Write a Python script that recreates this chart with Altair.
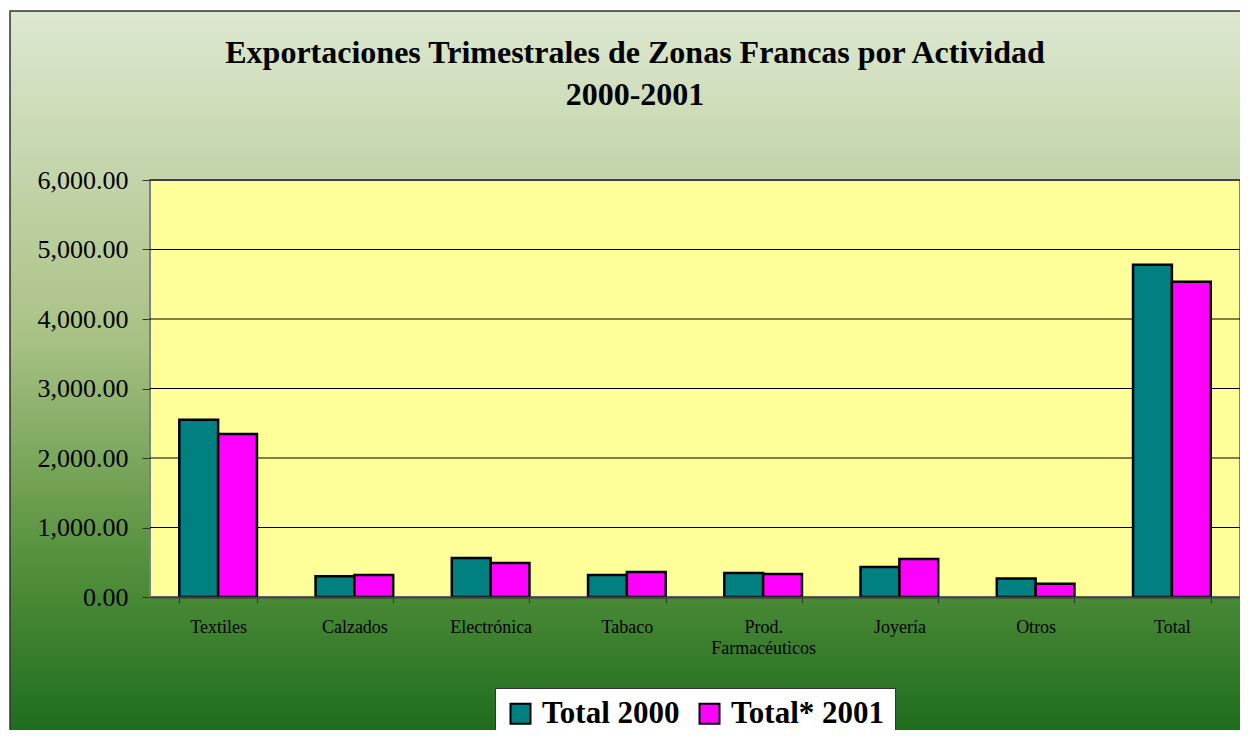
import altair as alt
import pandas as pd

categories = ["Textiles", "Calzados", "Electrónica", "Tabaco", "Prod. Farmacéuticos",
              "Joyería", "Otros", "Total"]
series = ["Total 2000", "Total* 2001"]
values_2000 = [2550, 300, 560, 315, 345, 430, 265, 4780]
values_2001 = [2345, 315, 490, 360, 330, 545, 190, 4535]
y_ticks = [0, 1000, 2000, 3000, 4000, 5000, 6000]
colors = ["#008080", "#FF00FF"]
title_lines = ["Exportaciones Trimestrales de Zonas Francas por Actividad", "2000-2001"]

rows = []
for c, a, b in zip(categories, values_2000, values_2001):
    rows.append({"cat": c, "serie": series[0], "v": a})
    rows.append({"cat": c, "serie": series[1], "v": b})
df = pd.DataFrame(rows)
grid_df = pd.DataFrame({"v": y_ticks[1:]})

W, H = 1090, 417

bg = alt.Chart(alt.Data(values=[{}])).mark_rect(
    fill=alt.Gradient(
        gradient="linear", x1=0, x2=0, y1=0, y2=1,
        stops=[
            alt.GradientStop(color="#dde8d0", offset=0),
            alt.GradientStop(color="#a9c184", offset=0.45),
            alt.GradientStop(color="#55913d", offset=0.75),
            alt.GradientStop(color="#1c6b1c", offset=1),
        ],
    ),
    stroke="#333333", strokeWidth=1.5,
).encode(
    x=alt.value(-140), x2=alt.value(W + 7),
    y=alt.value(-169), y2=alt.value(H + 143),
)

plot_bg = alt.Chart(alt.Data(values=[{}])).mark_rect(
    fill="#FFFF99", stroke="#808080", strokeWidth=2
).encode(
    x=alt.value(0), x2=alt.value("width"),
    y=alt.value(0), y2=alt.value("height"),
)

grid = alt.Chart(grid_df).mark_rule(color="#000000", strokeWidth=1).encode(
    y=alt.Y("v:Q", scale=alt.Scale(domain=[0, 6000]))
)

bars = alt.Chart(df).mark_bar(stroke="#000000", strokeWidth=2.5).encode(
    x=alt.X("cat:N", sort=categories, title=None,
            scale=alt.Scale(paddingInner=0.43, paddingOuter=0.215),
            axis=alt.Axis(
                labelAngle=0, labelFont="Liberation Serif", labelFontSize=18,
                labelColor="#000000", tickBand="extent", tickSize=6,
                tickColor="#333333", domainColor="#444444", domainWidth=2,
                labelPadding=15, labelLineHeight=21, zindex=1,
                labelExpr="datum.value == 'Prod. Farmacéuticos' ? ['Prod.', 'Farmacéuticos'] : datum.label",
            )),
    xOffset=alt.XOffset("serie:N", sort=series),
    y=alt.Y("v:Q", title=None, scale=alt.Scale(domain=[0, 6000]),
            axis=alt.Axis(values=y_ticks, format=",.2f", labelFont="Liberation Serif",
                          labelFontSize=26, labelColor="#000000", grid=False,
                          tickSize=8, tickColor="#333333", domain=False,
                          labelPadding=14, zindex=1)),
    color=alt.Color("serie:N", sort=series,
                    scale=alt.Scale(domain=series, range=colors),
                    legend=alt.Legend(
                        title=None, orient="none", legendX=345, legendY=508,
                        direction="horizontal", symbolType="square", symbolSize=400,
                        symbolStrokeColor="#000000", symbolStrokeWidth=2,
                        symbolOpacity=1,
                        labelFont="Liberation Serif", labelFontSize=31,
                        labelFontWeight="bold", labelColor="#000000",
                        labelLimit=400, columnPadding=14, labelOffset=6,
                        fillColor="#FFFFFF", strokeColor="#333333", padding=10,
                        zindex=1,
                    )),
)

chart = alt.layer(bg, plot_bg, grid, bars).properties(
    width=W, height=H,
    title=alt.TitleParams(
        text=title_lines,
        font="Liberation Serif", fontSize=32, fontWeight="bold", color="#000000",
        anchor="middle", frame="group", dx=-60, offset=-102, lineHeight=42, zindex=1,
    ),
    autosize=alt.AutoSizeParams(type="none"),
    padding={"left": 142, "top": 172, "right": 0, "bottom": 133},
).configure_view(stroke=None)

chart.save("out.html", embed_options={"renderer": "svg", "actions": False})
